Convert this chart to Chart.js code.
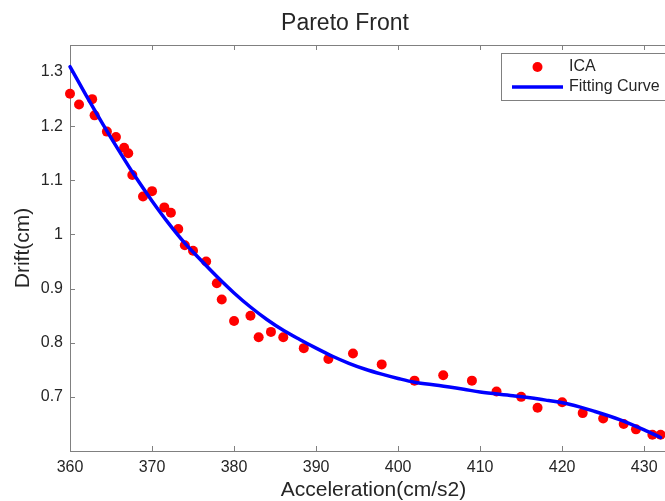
<!DOCTYPE html>
<html><head><meta charset="utf-8">
<script src="https://cdn.jsdelivr.net/npm/chart.js@4/dist/chart.umd.min.js"></script>
<style>
html,body{margin:0;padding:0;overflow:hidden;background:#fff;width:665px;height:501px}
#wrap{position:absolute;left:0;top:0;width:747px;height:501px}
</style>
</head><body><div id="wrap"><canvas id="c" width="747" height="501"></canvas></div>
<script>
const chartTitle = 'Pareto Front';
const xTitle = 'Acceleration(cm/s2)';
const yTitle = 'Drift(cm)';
const seriesNames = ['ICA', 'Fitting Curve'];
const icaX = [360, 361.1, 362.7, 363, 364.5, 365.6, 366.6, 367.1, 367.6, 368.9, 370, 371.5, 372.3, 373.2, 374, 375, 376.6, 377.9, 378.5, 380, 382, 383, 384.5, 386, 388.5, 391.5, 394.5, 398, 402, 405.5, 409, 412, 415, 417, 420, 422.5, 425, 427.5, 429, 431, 432];
const icaY = [1.26, 1.24, 1.25, 1.22, 1.19, 1.18, 1.16, 1.15, 1.11, 1.07, 1.08, 1.05, 1.04, 1.01, 0.98, 0.97, 0.95, 0.91, 0.88, 0.84, 0.85, 0.81, 0.82, 0.81, 0.79, 0.77, 0.78, 0.76, 0.73, 0.74, 0.73, 0.71, 0.70, 0.68, 0.69, 0.67, 0.66, 0.65, 0.64, 0.63, 0.63];
const fitX = [360, 362, 364, 366, 368, 370, 372, 374, 376, 378, 380, 382, 384, 386, 388, 390, 392, 394, 396, 398, 400, 402, 405, 408, 410, 414, 418, 421, 424, 427, 430, 432];
const fitY = [1.310, 1.256, 1.204, 1.154, 1.106, 1.062, 1.021, 0.984, 0.952, 0.921, 0.892, 0.866, 0.843, 0.823, 0.806, 0.790, 0.775, 0.762, 0.751, 0.742, 0.734, 0.727, 0.721, 0.714, 0.709, 0.702, 0.694, 0.686, 0.673, 0.658, 0.639, 0.625];
const xTicks = [360, 370, 380, 390, 400, 410, 420, 430];
const yTicks = [0.6, 0.7, 0.8, 0.9, 1.0, 1.1, 1.2, 1.3];
const xRange = [360, 434];
const yRange = [0.6, 1.35];

const FONT = "'Liberation Sans', Arial, sans-serif";
const TXT = '#262626';
const AXC = '#808080';

const axesPlugin = {
  id: 'matlabAxes',
  beforeDatasetsDraw(chart) {
    const {ctx, chartArea: a, scales: {x, y}} = chart;
    ctx.save();
    ctx.strokeStyle = AXC;
    ctx.lineWidth = 1;
    ctx.beginPath();
    ctx.rect(Math.round(a.left) + 0.5, Math.round(a.top) + 0.5, Math.round(a.right - a.left), Math.round(a.bottom - a.top));
    ctx.stroke();
    const L = 5;
    ctx.beginPath();
    x.ticks.forEach(t => {
      const px = Math.round(x.getPixelForValue(t.value)) + 0.5;
      ctx.moveTo(px, a.bottom); ctx.lineTo(px, a.bottom - L);
      ctx.moveTo(px, a.top); ctx.lineTo(px, a.top + L);
    });
    y.ticks.forEach(t => {
      const py = Math.round(y.getPixelForValue(t.value)) + 0.5;
      ctx.moveTo(a.left, py); ctx.lineTo(a.left + L, py);
      ctx.moveTo(a.right, py); ctx.lineTo(a.right - L, py);
    });
    ctx.stroke();
    ctx.restore();
  },
  afterDraw(chart) {
    const {ctx} = chart;
    const ds = chart.data.datasets;
    ctx.save();
    const bx = 501.5, by = 53.5, bw = 175, bh = 47;
    ctx.fillStyle = '#fff';
    ctx.fillRect(bx, by, bw, bh);
    ctx.strokeStyle = AXC;
    ctx.lineWidth = 1;
    ctx.strokeRect(bx, by, bw, bh);
    ctx.fillStyle = ds[0].backgroundColor;
    ctx.beginPath(); ctx.arc(537.5, 67, 5, 0, Math.PI * 2); ctx.fill();
    ctx.strokeStyle = ds[1].borderColor;
    ctx.lineWidth = 3.5;
    ctx.beginPath(); ctx.moveTo(512, 87); ctx.lineTo(563, 87); ctx.stroke();
    ctx.fillStyle = TXT;
    ctx.font = '16px ' + FONT;
    ctx.textBaseline = 'middle';
    ctx.textAlign = 'left';
    ctx.fillText(ds[0].label, 569, 67);
    ctx.fillText(ds[1].label, 569, 87);
    ctx.restore();
  }
};

new Chart(document.getElementById('c'), {
  type: 'scatter',
  data: {
    datasets: [
      {
        label: seriesNames[0],
        data: icaX.map((v, i) => ({x: v, y: icaY[i]})),
        backgroundColor: '#ff0000',
        borderColor: '#ff0000',
        pointRadius: 5,
        pointBorderWidth: 0,
        showLine: false,
        clip: false,
        order: 2
      },
      {
        label: seriesNames[1],
        data: fitX.map((v, i) => ({x: v, y: fitY[i]})),
        borderColor: '#0000ff',
        backgroundColor: '#0000ff',
        borderWidth: 3.5,
        pointRadius: 0,
        showLine: true,
        cubicInterpolationMode: 'monotone',
        borderCapStyle: 'round',
        borderJoinStyle: 'round',
        clip: false,
        order: 1
      }
    ]
  },
  options: {
    responsive: false,
    devicePixelRatio: 1,
    animation: false,
    layout: {padding: {left: 13, right: 70, top: 0, bottom: 0}},
    plugins: {
      legend: {display: false},
      tooltip: {enabled: false},
      title: {
        display: true, text: chartTitle, color: TXT,
        font: {family: FONT, size: 23, weight: 'normal'},
        padding: {top: 10, bottom: 7.4}
      }
    },
    scales: {
      x: {
        type: 'linear', min: xRange[0], max: xRange[1],
        afterBuildTicks: s => { s.ticks = xTicks.map(v => ({value: v})); },
        afterFit: s => { s.height = 50; },
        grid: {display: false, drawTicks: false}, border: {display: false},
        ticks: {color: TXT, font: {family: FONT, size: 16}, padding: 7, maxRotation: 0},
        title: {display: true, text: xTitle, color: TXT, font: {family: FONT, size: 21, lineHeight: 1}, padding: 0}
      },
      y: {
        type: 'linear', min: yRange[0], max: yRange[1],
        afterBuildTicks: s => { s.ticks = yTicks.map(v => ({value: v})); },
        afterFit: s => { s.width = 57; },
        grid: {display: false, drawTicks: false}, border: {display: false},
        ticks: {color: TXT, font: {family: FONT, size: 16}, padding: 7,
          callback: v => (Math.abs(v - 0.6) < 1e-9 ? '' : String(Math.round(v * 10) / 10))},
        title: {display: true, text: yTitle, color: TXT, font: {family: FONT, size: 21, lineHeight: 1}, padding: 0}
      }
    }
  },
  plugins: [axesPlugin]
});
</script>
</body></html>
